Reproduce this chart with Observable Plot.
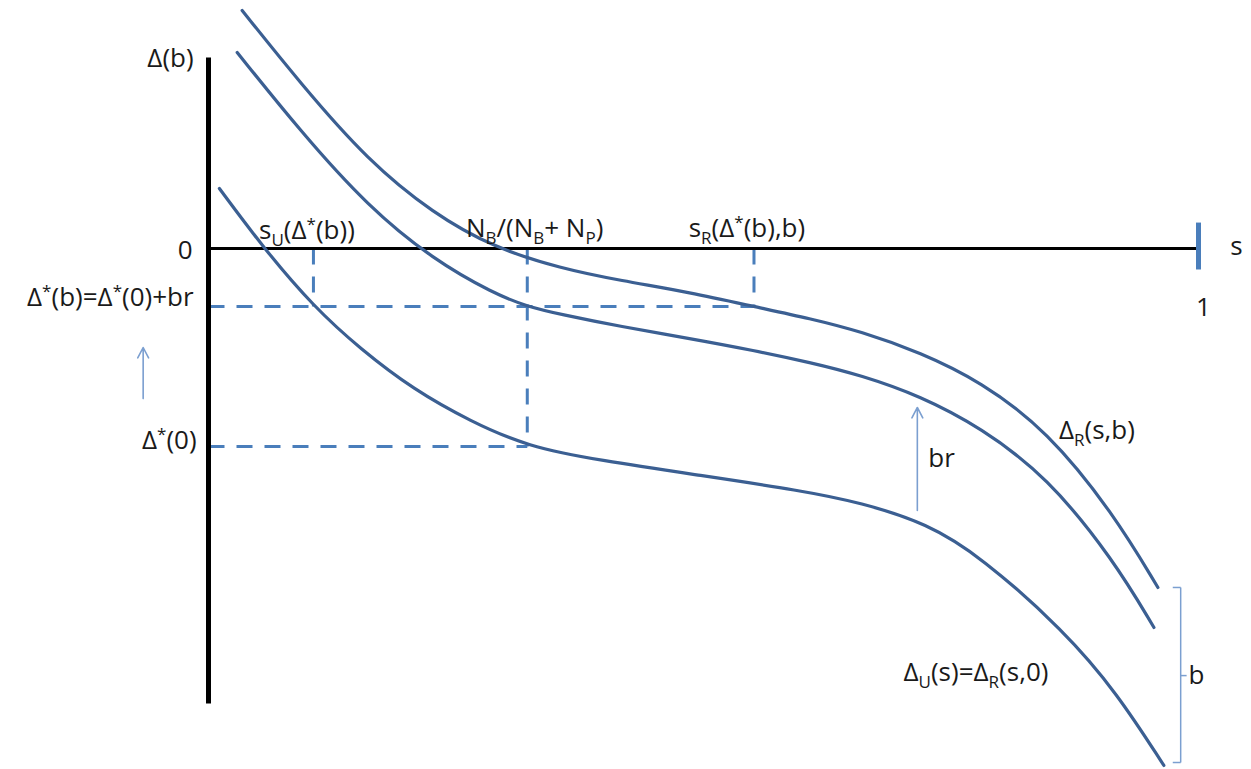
<!DOCTYPE html>
<html><head><meta charset="utf-8">
<script src="https://cdn.jsdelivr.net/npm/d3@7"></script>
<script src="https://cdn.jsdelivr.net/npm/@observablehq/plot@0.6"></script>
<style>body{margin:0;background:#fff}#chart{width:1251px;height:769px}</style>
</head><body><div id="chart"></div>
<script>
// s (share) in [0,1]; Δ in units where Δ*(0) = -1
const sTop = [0.034,0.093,0.161,0.227,0.288,0.356,0.416,0.487,0.551,0.608,0.659,0.719,0.780,0.847,0.914,0.959];
const dTop = [1.202,0.833,0.444,0.177,0.005,-0.101,-0.162,-0.222,-0.293,-0.354,-0.419,-0.525,-0.672,-0.919,-1.338,-1.712];
const sMid = [0.029,0.093,0.161,0.227,0.288,0.322,0.356,0.416,0.487,0.551,0.608,0.659,0.719,0.780,0.847,0.914,0.955];
const dMid = [0.990,0.591,0.212,-0.056,-0.227,-0.293,-0.333,-0.394,-0.455,-0.515,-0.576,-0.640,-0.745,-0.904,-1.152,-1.571,-1.914];
const sBot = [0.011,0.056,0.106,0.154,0.207,0.265,0.322,0.396,0.497,0.598,0.659,0.726,0.780,0.864,0.918,0.965];
const dBot = [0.303,0,-0.293,-0.510,-0.712,-0.874,-1.0,-1.071,-1.146,-1.222,-1.283,-1.389,-1.556,-1.929,-2.247,-2.611];

// axes: [s1, Δ1, s2, Δ2]
const axisSegs = [[0,0.965,0,-2.298],[0,0,1,0]];
const endTick = [[1,0.131,1,-0.106]];
// dashed guides
const dashSegs = [
  [0,-0.293,0.551,-0.293],
  [0,-1,0.322,-1],
  [0.106,0,0.106,-0.293],
  [0.322,0,0.322,-1],
  [0.551,0,0.551,-0.293]
];
// arrows
const arrowSegs = [[-0.066,-0.758,-0.066,-0.50],[0.716,-1.323,0.716,-0.803]];
// brace for b
const braceSegs = [
  [0.982,-1.712,0.982,-2.596],
  [0.974,-1.712,0.982,-1.712],
  [0.974,-2.596,0.982,-2.596],
  [0.982,-2.157,0.988,-2.157]
];

// labels
const endLabels = ["Δ(b)","0","Δ^{*}(b)=Δ^{*}(0)+br","Δ^{*}(0)"];
const endS = [-0.015,-0.016,-0.015,-0.012];
const endD = [0.96,-0.01,-0.247,-0.97];
const startLabels = ["s_{U}(Δ^{*}(b))","N_{B}/(N_{B}+ N_{P})","s_{R}(Δ^{*}(b),b)","s","Δ_{R}(s,b)","br","Δ_{U}(s)=Δ_{R}(s,0)","b"];
const startS = [0.051,0.260,0.485,1.032,0.859,0.727,0.702,0.990];
const startD = [0.091,0.101,0.101,0.01,-0.919,-1.06,-2.141,-2.157];
const midLabels = ["1"];
const midS = [1.005];
const midD = [-0.298];

const curve = (S, D, name) => S.map((s, i) => ({s, d: D[i], name}));
const curves = [...curve(sTop,dTop,"top"), ...curve(sMid,dMid,"mid"), ...curve(sBot,dBot,"bot")];
const seg = a => a.map(([s1,d1,s2,d2]) => ({s1,d1,s2,d2}));
const lab = (T,S,D) => T.map((t,i) => ({t, s:S[i], d:D[i]}));

const font = {fontFamily: "'Open Sans', Lato, sans-serif", fontSize: 26, fill: "#1a1a1a"};

const chart = Plot.plot({
  width: 1251, height: 769, margin: 0,
  x: {domain: [0,1], range: [208,1198], axis: null},
  y: {domain: [0,-1], range: [248,446], axis: null},
  marks: [
    Plot.link(seg(dashSegs), {x1:"s1",y1:"d1",x2:"s2",y2:"d2", stroke:"#4a7ebb", strokeWidth:3, strokeDasharray:"16,12"}),
    Plot.link(seg(axisSegs.slice(0,1)), {x1:"s1",y1:"d1",x2:"s2",y2:"d2", stroke:"#000", strokeWidth:5}),
    Plot.link(seg(axisSegs.slice(1)), {x1:"s1",y1:"d1",x2:"s2",y2:"d2", stroke:"#000", strokeWidth:3}),
    Plot.link(seg(endTick), {x1:"s1",y1:"d1",x2:"s2",y2:"d2", stroke:"#4a7ebb", strokeWidth:5}),
    Plot.line(curves, {x:"s", y:"d", z:"name", stroke:"#3b5f92", strokeWidth:3.2, curve:"basis"}),
    Plot.arrow(seg(arrowSegs), {x1:"s1",y1:"d1",x2:"s2",y2:"d2", stroke:"#7b9fd0", strokeWidth:1.6, headLength:11, headAngle:55}),
    Plot.link(seg(braceSegs), {x1:"s1",y1:"d1",x2:"s2",y2:"d2", stroke:"#7b9fd0", strokeWidth:1.5}),
    Plot.text(lab(endLabels,endS,endD), {x:"s", y:"d", text:"t", textAnchor:"end", ...font}),
    Plot.text(lab(startLabels,startS,startD), {x:"s", y:"d", text:"t", textAnchor:"start", ...font}),
    Plot.text(lab(midLabels,midS,midD), {x:"s", y:"d", text:"t", textAnchor:"middle", ...font})
  ]
});
document.getElementById("chart").appendChild(chart);

// rich text: _{..} subscript, ^{..} superscript
const NS = "http://www.w3.org/2000/svg";
chart.querySelectorAll("text").forEach(el => {
  const str = el.textContent;
  if (!/[_^]\{/.test(str)) return;
  el.textContent = "";
  const re = /([_^])\{([^}]*)\}|([^_^]+)/g;
  let m, shift = 0;
  while ((m = re.exec(str))) {
    const t = document.createElementNS(NS, "tspan");
    if (m[1]) {
      const d = m[1] === "_" ? 7 : -9;
      t.setAttribute("dy", d - shift); shift = d;
      t.setAttribute("font-size", "17");
      t.textContent = m[2];
    } else {
      if (shift) t.setAttribute("dy", -shift);
      shift = 0;
      t.textContent = m[3];
    }
    el.appendChild(t);
  }
});
</script>
</body></html>
